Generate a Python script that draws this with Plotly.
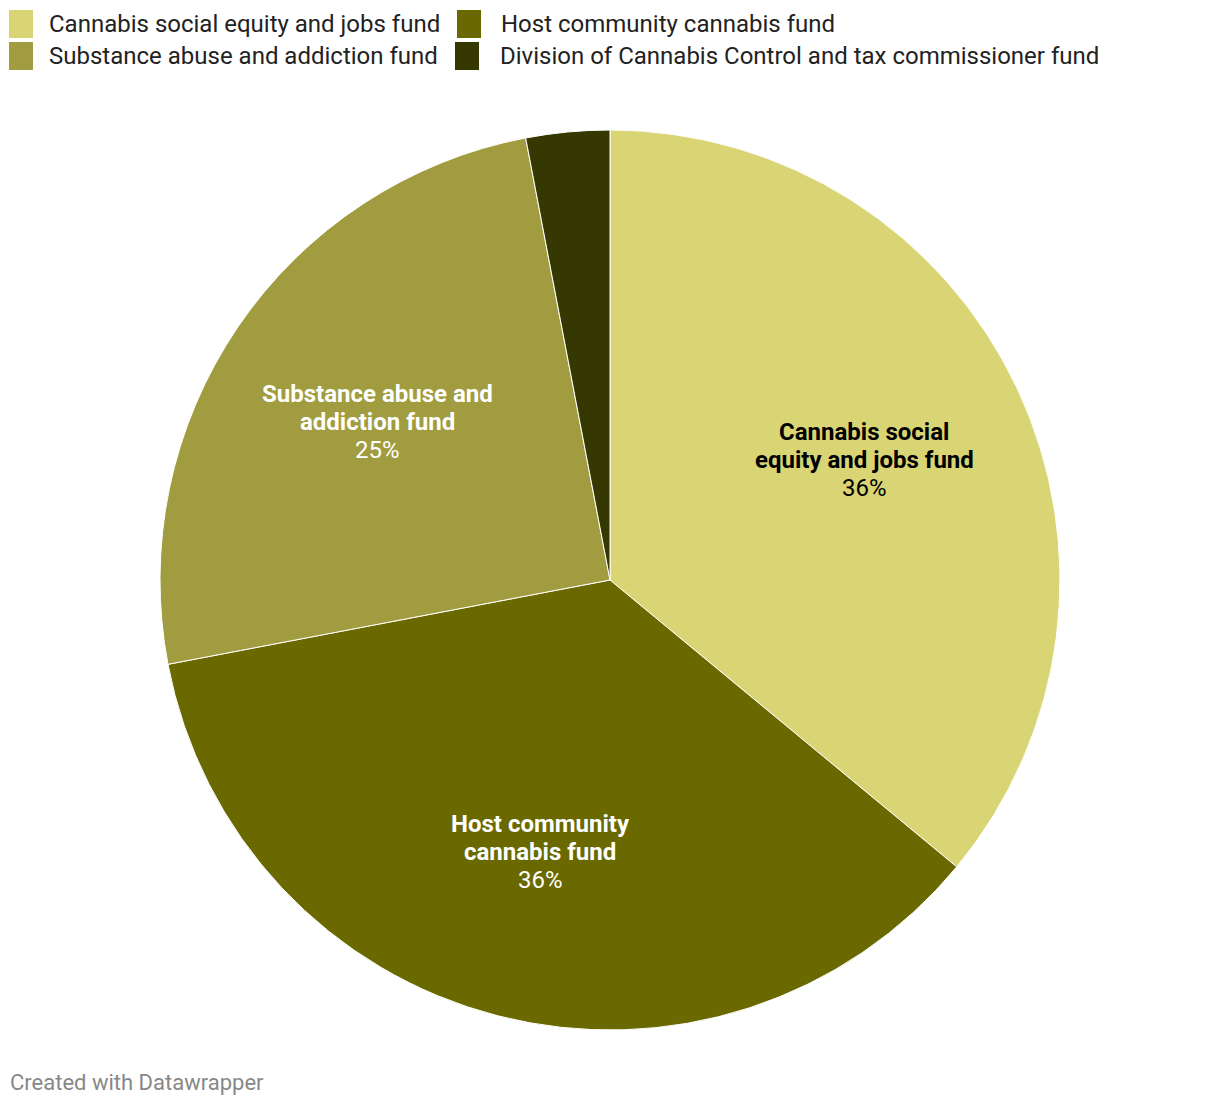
import math
import plotly.graph_objects as go

W, H = 1220, 1106

labels = ["Cannabis social equity and jobs fund", "Host community cannabis fund",
          "Substance abuse and addiction fund", "Division of Cannabis Control and tax commissioner fund"]
values = [36, 36, 25, 3]
colors = ["#d9d574", "#696900", "#a19c3f", "#353800"]
label_lines = [["Cannabis social", "equity and jobs fund"],
               ["Host community", "cannabis fund"],
               ["Substance abuse and", "addiction fund"],
               None]
text_colors = ["#000000", "#ffffff", "#ffffff", "#ffffff"]

cx, cy, R = 610, 580, 450
LINE = 28

fig = go.Figure(go.Pie(
    labels=labels, values=values, sort=False, direction="clockwise", rotation=0,
    marker=dict(colors=colors, line=dict(color="#ffffff", width=1)),
    textinfo="none", hoverinfo="label+percent", showlegend=False,
    domain=dict(x=[(cx - R) / W, (cx + R) / W], y=[1 - (cy + R) / H, 1 - (cy - R) / H]),
))

shapes = []
annotations = []

# slice labels at the middle angle of each slice
total = sum(values)
cum = 0
for v, lab, tc in zip(values, label_lines, text_colors):
    mid = (cum + v / 2) / total * 2 * math.pi
    cum += v
    if lab is None:
        continue
    r = 0.625 * R
    px = cx + r * math.sin(mid)
    py = cy - r * math.cos(mid)
    pct = round(v / total * 100)
    lines = [f"<b>{t}</b>" for t in lab] + [f"{pct}%"]
    n = len(lines)
    for k, t in enumerate(lines):
        ly = py + (k - (n - 1) / 2) * LINE
        annotations.append(dict(text=t, xref="paper", yref="paper",
                                x=px / W, y=1 - ly / H, xanchor="center", yanchor="middle",
                                showarrow=False,
                                font=dict(family="Roboto", size=24, color=tc)))

# legend (manual, 2 columns)
legend_pos = [(9, 10, 48), (457, 10, 500), (9, 42, 48), (455, 42, 499)]
for i, (lx, ly, tx) in enumerate(legend_pos):
    shapes.append(dict(type="rect", xref="paper", yref="paper",
                       x0=lx / W, x1=(lx + 24) / W, y0=1 - (ly + 28) / H, y1=1 - ly / H,
                       fillcolor=colors[i], line=dict(width=0)))
    annotations.append(dict(text=labels[i], xref="paper", yref="paper",
                            x=(tx - 1) / W, y=1 - (ly + 14) / H, xanchor="left", yanchor="middle",
                            showarrow=False, font=dict(family="Roboto", size=24, color="#222222")))

annotations.append(dict(text="Created with Datawrapper", xref="paper", yref="paper",
                        x=8 / W, y=1 - 1082 / H, xanchor="left", yanchor="middle", showarrow=False,
                        font=dict(family="Roboto", size=22, color="#888888")))

fig.update_layout(width=W, height=H, margin=dict(l=0, r=0, t=0, b=0),
                  paper_bgcolor="#ffffff", plot_bgcolor="#ffffff",
                  shapes=shapes, annotations=annotations, font=dict(family="Roboto"))

fig.write_html("out.html")
